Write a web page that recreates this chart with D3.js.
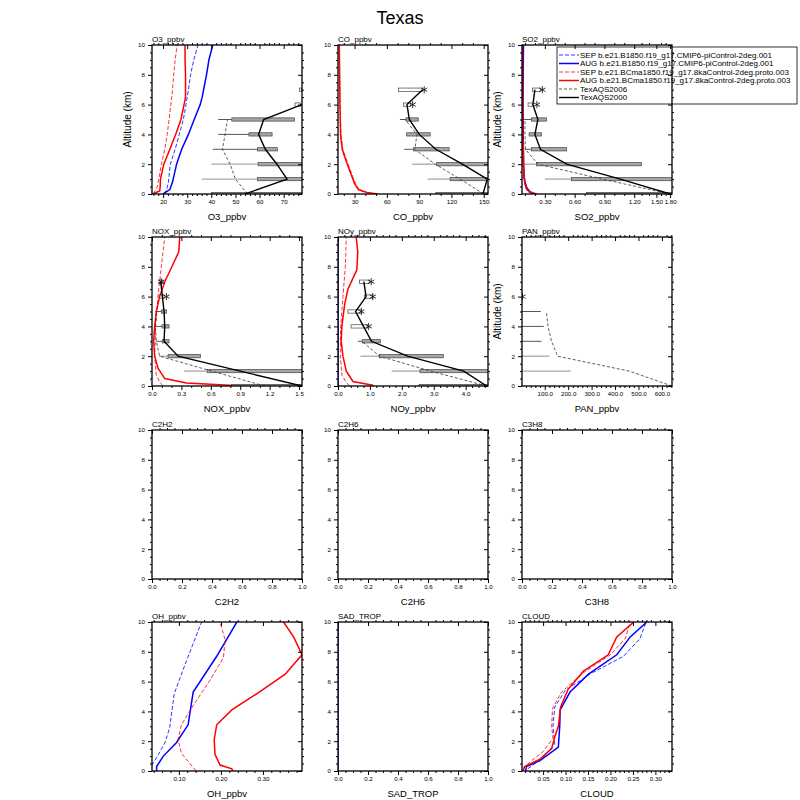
<!DOCTYPE html>
<html lang="en">
<head>
<meta charset="UTF-8">
<title>Texas</title>
<script src="https://d3js.org/d3.v7.min.js"></script>
<style>
body { margin: 0; background: #fff; }
text { font-family: 'Liberation Sans', Arial, Helvetica, sans-serif; fill: #000; }
</style>
</head>
<body>
<svg id="canvas"></svg>
<script>
// ---------- data ----------
// model profiles: [value, altitude km]
let o3SepB = [[20.5,0],[21.5,0.3],[22.2,0.8],[23,2],[25,3],[26.7,4],[28.4,5],[29.5,6],[30.5,7],[31.4,8],[32.7,9],[34.5,10]]
let o3AugB = [[20,0],[22.8,0.3],[23.9,0.8],[25.6,2],[27.7,3],[30.5,4],[32.9,5],[35.4,6],[36.2,6.5],[38,8],[39,9],[40.6,10]]
let o3SepC = [[16,0],[17.6,0.5],[18.2,1],[19.3,2],[20.7,3],[21.7,4],[22.5,5],[23.2,6],[23.9,7],[24.4,8],[25,9],[25.8,10]]
let o3AugC = [[15.6,0],[18.6,0.2],[18.8,0.5],[18.9,1],[20.3,2],[22.8,3],[25.2,4],[27.4,5],[28.7,6],[29.3,6.5],[29.3,8],[29.1,9],[29.1,10]]

let coSepC = [[50,0],[40,0.1],[34,0.3],[31,0.7],[29.2,1],[24,2],[19,3],[17.3,4],[16.6,6],[16.2,8],[15.9,10]]
let coAugC = [[51.6,0],[41.6,0.1],[33.5,0.3],[30,0.7],[28.4,1],[23.2,2],[18.5,3],[17,4],[16.4,6],[16.1,8],[15.8,10]]

let so2SepB = [[0.17,0],[0.13,0.15],[0.11,0.4],[0.095,0.8],[0.085,1.5],[0.08,2.5],[0.078,5],[0.078,8],[0.08,10]]
let so2AugB = [[0.2,0],[0.15,0.15],[0.12,0.4],[0.1,0.8],[0.09,1.3],[0.085,2],[0.082,4],[0.08,6],[0.082,8],[0.085,10]]
let so2SepC = [[0.19,0],[0.14,0.12],[0.11,0.35],[0.095,0.8],[0.085,1.5],[0.078,2.5],[0.075,5],[0.075,10]]
let so2AugC = [[0.22,0],[0.16,0.1],[0.12,0.3],[0.1,0.7],[0.09,1.2],[0.087,2.2],[0.078,4],[0.076,10]]

let noxSepC = [[0.11,0],[0.078,0.3],[0.044,0.7],[0.027,2],[0.037,4],[0.061,6],[0.095,8],[0.13,10]]
let noxAugC = [[0.82,0],[0.79,0.05],[0.35,0.2],[0.13,0.5],[0.061,1.2],[0.027,2],[0.017,3],[0.027,4],[0.044,5],[0.078,6],[0.13,7],[0.181,7.7],[0.273,9],[0.283,10]]

let noyAugB = [[0,0],[0,10]]
let noySepC = [[0.36,0],[0.26,0.25],[0.124,0.7],[0.073,2],[0.083,4],[0.155,6],[0.23,8],[0.26,10]]
let noyAugC = [[1.12,0],[1.09,0.05],[0.47,0.3],[0.26,1],[0.155,2],[0.10,3],[0.12,4],[0.21,5.5],[0.31,6.5],[0.59,7.8],[0.62,9],[0.57,10]]

let ohSepB = [[0.03,0],[0.036,0.4],[0.047,0.9],[0.067,1.9],[0.078,2.9],[0.089,5.2],[0.118,7.4],[0.154,10]]
let ohAugB = [[0.047,0],[0.047,0.3],[0.063,1],[0.094,1.9],[0.122,3.1],[0.134,5.3],[0.19,7.7],[0.238,10]]
let ohSepC = [[0.141,0],[0.126,0.5],[0.106,1.2],[0.098,2.1],[0.106,3.1],[0.134,4.4],[0.174,6.1],[0.206,7.6],[0.21,8.8],[0.198,10]]
let ohAugC = [[0.228,0],[0.226,0.15],[0.198,0.4],[0.186,1.1],[0.184,2.1],[0.19,3.1],[0.226,4.1],[0.286,5.2],[0.353,6.5],[0.393,7.8],[0.373,9],[0.349,10]]

let sadAugB = [[0,0],[0,10]]

let cloudSepB = [[0.016,0.15],[0.05,0.9],[0.076,1.8],[0.072,3],[0.076,4.3],[0.099,5.4],[0.154,6.5],[0.229,7.7],[0.266,8.9],[0.278,9.9]]
let cloudAugB = [[0.011,0],[0.013,0.3],[0.043,0.7],[0.084,1.6],[0.087,3],[0.088,4.1],[0.11,5.3],[0.151,6.5],[0.214,7.8],[0.244,9],[0.281,10]]
let cloudSepC = [[0.005,0.15],[0.02,0.6],[0.05,1.3],[0.072,2.2],[0.069,3],[0.071,4.2],[0.091,5.3],[0.14,6.6],[0.2,7.8],[0.233,8.9],[0.244,10]]
let cloudAugC = [[0.005,0],[0.009,0.3],[0.043,0.8],[0.069,1.5],[0.076,2.3],[0.084,3],[0.089,4.3],[0.106,5.5],[0.14,6.7],[0.195,7.8],[0.214,9],[0.252,10]]

// observations at 0..7 km
let obsAlt = [0, 1, 2, 3, 4, 5, 6, 7]
let o3Obs2000 = [54, 71.4, 67.2, 62.4, 59.6, 61.7, 77.6, null]
let o3Obs2006 = [55, 50, 47.8, 44.6, 45.7, 46.7]
let coObs2000 = [149.3, 153.3, 130.2, 105.5, 90.1, 80.9, 78.7, 93.2]
let coObs2006 = [150, 128, 105, 86, 88, 77]
let so2Obs2000 = [1.8, 1.06, 0.52, 0.256, 0.20, 0.23, 0.18, 0.20]
let so2Obs2006 = [1.8, 0.88, 0.23, 0.105, 0.1, 0.1]
let noxObs2000 = [1.53, 0.9, 0.266, 0.123, 0.13, 0.123, 0.106, 0.089]
let noxObs2006 = [1.15, 0.61, 0.078, 0.044, 0.034, 0.044]
let noyObs2000 = [4.66, 3.94, 2.18, 1.05, 0.8, 0.55, 0.88, 0.81]
let noyObs2006 = [4.66, 2.9, 1.3, 0.75]
let panObs2006 = [643, 460, 155, 129, 114, 107]

// quartile boxes [alt, low, high, filled]
let o3Box = [[0,40,80,1],[1,59.2,80,1],[2,59.4,80,1],[3,59.2,67.5,1],[4,55.6,65.2,1],[5,48.5,74.5,1],[6,74.7,77,0],[7,76.5,77.5,0]]
let coBox = [[0,105.5,160,1],[1,118.8,160,1],[2,106.4,160,1],[3,84.9,117.9,1],[4,78.4,100.3,1],[5,77.8,89.2,1],[6,75.6,81.8,0],[7,70.7,93.2,0]]
let so2Box = [[0,0.72,2,1],[1,0.57,2,1],[2,0.216,1.296,1],[3,0.165,0.52,1],[4,0.141,0.267,1],[5,0.165,0.317,1],[6,0.131,0.176,0],[7,0.176,0.256,0]]
let noxBox = [[0,0.81,2,1],[1,0.563,2,1],[2,0.164,0.494,1],[3,0.106,0.174,1],[4,0.102,0.174,1],[5,0.095,0.147,1],[6,0.072,0.123,0],[7,0.072,0.112,0]]
let noyBox = [[0,2.54,6,1],[1,2.57,6,1],[2,1.3,3.3,1],[3,0.76,1.33,1],[4,0.41,0.93,0],[5,0.31,0.73,0],[6,0.83,1.09,0],[7,0.67,0.98,0]]

// range whiskers [alt, low, high]
let o3Whisk = [[1,36,59.2],[2,40,59.4],[3,40.6,59.2],[4,42.9,55.6],[5,42.9,48.5]]
let coWhisk = [[1,97.8,118.8],[2,83.3,106.4],[3,76.2,84.9],[5,72.2,77.8]]
let so2Whisk = [[1,0.3,0.57],[2,0.098,0.216],[3,0.098,0.165],[5,0.07,0.165]]
let noxWhisk = [[1,0.324,0.563],[2,0.072,0.164],[3,0.044,0.106],[4,0.034,0.102],[5,0.034,0.095]]
let noyWhisk = [[1,1.68,2.57],[2,0.70,1.30],[3,0.62,0.76]]
let panWhisk = [[1,0,211],[2,0,121],[3,0,86],[4,0,96],[5,0,83]]

// asterisk markers [alt, value]
let coStar = [[7,94.7],[6,84]]
let so2Star = [[7,0.275],[6,0.22]]
let noxStar = [[7,0.095],[6,0.147]]
let noyStar = [[7,1.04],[6,1.09],[5,0.73],[4,0.96]]
let panStar = [[6,5]]

// axis ticks
let yTicks = [0, 2, 4, 6, 8, 10]
let o3Ticks = [20, 30, 40, 50, 60, 70]
let coTicks = [30, 60, 90, 120, 150]
let so2Ticks = [0.3, 0.6, 0.9, 1.2, 1.5, 1.8]
let noxTicks = [0, 0.3, 0.6, 0.9, 1.2, 1.5]
let noyTicks = [0, 1, 2, 3, 4]
let panTicks = [100, 200, 300, 400, 500, 600]
let unitTicks = [0, 0.2, 0.4, 0.6, 0.8, 1.0]
let ohTicks = [0.1, 0.2, 0.3]
let cloudTicks = [0.05, 0.1, 0.15, 0.2, 0.25, 0.3]

let legendLabels = [
    'SEP b.e21.B1850.f19_g17.CMIP6-piControl-2deg.001',
    'AUG b.e21.B1850.f19_g17.CMIP6-piControl-2deg.001',
    'SEP b.e21.BCma1850.f19_g17.8kaControl-2deg.proto.003',
    'AUG b.e21.BCma1850.f19_g17.8kaControl-2deg.proto.003',
    'TexAQS2006',
    'TexAQS2000'
]

// ---------- layout ----------
let width = 800
let height = 800
let colX = [152, 338, 522]
let rowY = [45, 237, 430, 622]
let W = 150
let H = 149

let styles = {
    sepB: {color: '#0000ff', w: 0.8, dash: '4,2'},
    augB: {color: '#0000ff', w: 1.5, dash: null},
    sepC: {color: '#ff0000', w: 0.8, dash: '4,2'},
    augC: {color: '#ff0000', w: 1.5, dash: null},
    o2006: {color: '#333333', w: 0.8, dash: '3,2'},
    o2000: {color: '#000000', w: 1.4, dash: null}
}

let panels = [
    {title: 'O3_ppbv', col: 0, row: 0, xDom: [15.4, 77.6], ticks: o3Ticks, minor: d3.range(16, 78, 2), fmt: d3.format('d'), yLabel: true,
     sepB: o3SepB, augB: o3AugB, sepC: o3SepC, augC: o3AugC, o2000: o3Obs2000, o2006: o3Obs2006, box: o3Box, whisk: o3Whisk, star: []},
    {title: 'CO_ppbv', col: 1, row: 0, xDom: [14.6, 154], ticks: coTicks, minor: d3.range(20, 155, 10), fmt: d3.format('d'),
     sepB: [], augB: [], sepC: coSepC, augC: coAugC, o2000: coObs2000, o2006: coObs2006, box: coBox, whisk: coWhisk, star: coStar},
    {title: 'SO2_ppbv', col: 2, row: 0, xDom: [0.07, 1.2, 1.5, 1.84], xFrac: [0, 0.748, 0.896, 1], ticks: so2Ticks, minor: d3.range(0.1, 1.85, 0.1), fmt: d3.format('.2f'), yLabel: true,
     sepB: so2SepB, augB: so2AugB, sepC: so2SepC, augC: so2AugC, o2000: so2Obs2000, o2006: so2Obs2006, box: so2Box, whisk: so2Whisk, star: so2Star},
    {title: 'NOX_ppbv', col: 0, row: 1, xDom: [0, 1.53], ticks: noxTicks, minor: d3.range(0, 1.55, 0.1), fmt: d3.format('.1f'),
     sepB: [], augB: [], sepC: noxSepC, augC: noxAugC, o2000: noxObs2000, o2006: noxObs2006, box: noxBox, whisk: noxWhisk, star: noxStar},
    {title: 'NOy_ppbv', col: 1, row: 1, xDom: [0, 4.7], ticks: noyTicks, minor: d3.range(0, 4.7, 0.2), fmt: d3.format('.1f'),
     sepB: [], augB: noyAugB, sepC: noySepC, augC: noyAugC, o2000: noyObs2000, o2006: noyObs2006, box: noyBox, whisk: noyWhisk, star: noyStar},
    {title: 'PAN_ppbv', col: 2, row: 1, xDom: [3, 643], ticks: panTicks, minor: d3.range(20, 645, 20), fmt: d3.format('.1f'), yLabel: true,
     sepB: [], augB: [], sepC: [], augC: [], o2000: [], o2006: panObs2006, box: [], whisk: panWhisk, star: panStar},
    {title: 'C2H2', col: 0, row: 2, xDom: [0, 1], ticks: unitTicks, minor: d3.range(0, 1.001, 0.05), fmt: d3.format('.1f')},
    {title: 'C2H6', col: 1, row: 2, xDom: [0, 1], ticks: unitTicks, minor: d3.range(0, 1.001, 0.05), fmt: d3.format('.1f')},
    {title: 'C3H8', col: 2, row: 2, xDom: [0, 1], ticks: unitTicks, minor: d3.range(0, 1.001, 0.05), fmt: d3.format('.1f')},
    {title: 'OH_ppbv', col: 0, row: 3, xDom: [0.036, 0.393], ticks: ohTicks, minor: d3.range(0.04, 0.4, 0.02), fmt: d3.format('.2f'),
     sepB: ohSepB, augB: ohAugB, sepC: ohSepC, augC: ohAugC},
    {title: 'SAD_TROP', col: 1, row: 3, xDom: [0, 1], ticks: unitTicks, minor: d3.range(0, 1.001, 0.05), fmt: d3.format('.1f'),
     augB: sadAugB},
    {title: 'CLOUD', col: 2, row: 3, xDom: [0.003, 0.337], ticks: cloudTicks, minor: d3.range(0.01, 0.34, 0.01), fmt: d3.format('.2f'),
     sepB: cloudSepB, augB: cloudAugB, sepC: cloudSepC, augC: cloudAugC}
]

let svg = d3.select('#canvas').attr('width', width).attr('height', height)

svg.append('text')
    .attr('x', 400).attr('y', 24)
    .attr('text-anchor', 'middle')
    .style('font-size', '18px')
    .text('Texas')

let offMajor = (vals, majors) => vals.filter(v => !majors.some(m => Math.abs(m - v) < 1e-6))

let drawPanel = (p, i) => {
    let g = svg.append('g').attr('transform', 'translate(' + colX[p.col] + ',' + rowY[p.row] + ')')
    let range = p.xFrac ? p.xFrac.map(f => f * W) : [0, W]
    let x = d3.scaleLinear().domain(p.xDom).range(range)
    let y = d3.scaleLinear().domain([0, 10]).range([H, 0])
    let lo = p.xDom[0], hi = p.xDom[p.xDom.length - 1]

    g.append('clipPath').attr('id', 'clip' + i)
        .append('rect').attr('width', W).attr('height', H)
    let plot = g.append('g').attr('clip-path', 'url(#clip' + i + ')')

    // whiskers
    plot.selectAll('.whisk').data(p.whisk || []).join('line')
        .attr('x1', d => x(Math.max(d[1], lo)))
        .attr('x2', d => x(d[2]))
        .attr('y1', d => y(d[0])).attr('y2', d => y(d[0]))
        .attr('stroke', d => d[0] <= 2 ? '#a8a8a8' : '#555')
        .attr('stroke-width', d => d[0] <= 2 ? 1.3 : 1)

    // boxes
    plot.selectAll('.box').data(p.box || []).join('rect')
        .attr('x', d => x(d[1]))
        .attr('width', d => x(Math.min(d[2], hi * 1.2)) - x(d[1]))
        .attr('y', d => y(d[0] + 0.11))
        .attr('height', d => y(d[0] - 0.11) - y(d[0] + 0.11))
        .attr('fill', d => d[3] ? '#a6a6a6' : '#fff')
        .attr('stroke', '#444')
        .attr('stroke-width', 0.7)

    let line = d3.line().defined(d => d[0] != null).x(d => x(d[0])).y(d => y(d[1]))

    ;['sepB', 'augB', 'sepC', 'augC'].forEach(k => {
        if (!p[k] || !p[k].length) return
        let s = styles[k]
        plot.append('path').datum(p[k])
            .attr('d', line)
            .attr('fill', 'none')
            .attr('stroke', s.color)
            .attr('stroke-width', s.w)
            .attr('stroke-dasharray', s.dash)
    })

    ;['o2006', 'o2000'].forEach(k => {
        if (!p[k] || !p[k].length) return
        let s = styles[k]
        let pts = p[k].map((v, j) => [v, obsAlt[j]])
        plot.append('path').datum(pts)
            .attr('d', line)
            .attr('fill', 'none')
            .attr('stroke', s.color)
            .attr('stroke-width', s.w)
            .attr('stroke-dasharray', s.dash)
    })

    plot.selectAll('.star').data(p.star || []).join('path')
        .attr('transform', d => 'translate(' + x(d[1]) + ',' + y(d[0]) + ')')
        .attr('d', d3.symbol(d3.symbolAsterisk, 36))
        .attr('fill', 'none')
        .attr('stroke', '#000')
        .attr('stroke-width', 0.8)

    // axes
    let minorX = offMajor(p.minor.filter(v => v >= lo - 1e-9 && v <= hi + 1e-9), p.ticks)
    let minorY = offMajor(d3.range(0, 10.01, 0.5), yTicks)

    let addAxis = (axis, tr) => {
        let a = g.append('g').attr('transform', tr).call(axis)
        a.select('.domain').remove()
        a.selectAll('line').attr('stroke', '#000').attr('stroke-width', 1)
        a.selectAll('text').style('font-size', '6.2px')
        return a
    }

    addAxis(d3.axisBottom(x).tickValues(p.ticks).tickSize(4).tickPadding(2).tickFormat(p.fmt), 'translate(0,' + H + ')')
    addAxis(d3.axisBottom(x).tickValues(minorX).tickSize(2).tickFormat(''), 'translate(0,' + H + ')')
    addAxis(d3.axisTop(x).tickValues(p.ticks).tickSize(-4).tickFormat(''), 'translate(0,0)')
    addAxis(d3.axisTop(x).tickValues(minorX).tickSize(2).tickFormat(''), 'translate(0,0)')
    addAxis(d3.axisLeft(y).tickValues(yTicks).tickSize(4).tickPadding(3).tickFormat(d3.format('d')), 'translate(0,0)')
    addAxis(d3.axisLeft(y).tickValues(minorY).tickSize(2).tickFormat(''), 'translate(0,0)')
    addAxis(d3.axisRight(y).tickValues(yTicks).tickSize(-4).tickFormat(''), 'translate(' + W + ',0)')
    addAxis(d3.axisRight(y).tickValues(minorY).tickSize(2).tickFormat(''), 'translate(' + W + ',0)')

    g.append('rect')
        .attr('width', W).attr('height', H)
        .attr('fill', 'none')
        .attr('stroke', '#000')
        .attr('stroke-width', 1.3)

    g.append('text')
        .attr('x', 0).attr('y', -3)
        .style('font-size', '8px')
        .text(p.title)

    g.append('text')
        .attr('x', W / 2).attr('y', H + 26)
        .attr('text-anchor', 'middle')
        .style('font-size', '9.5px')
        .text(p.title)

    if (p.yLabel) {
        g.append('text')
            .attr('transform', 'translate(-21,' + (H / 2) + ') rotate(-90)')
            .attr('text-anchor', 'middle')
            .style('font-size', '10px')
            .text('Altitude (km)')
    }
}

panels.forEach(drawPanel)

// legend
let legend = svg.append('g').attr('transform', 'translate(557,47)')
legend.append('rect')
    .attr('width', 240).attr('height', 57)
    .attr('fill', 'none')
    .attr('stroke', '#000')
    .attr('stroke-width', 0.8)

let legendKeys = ['sepB', 'augB', 'sepC', 'augC', 'o2006', 'o2000']
let legendY = d3.scaleLinear().domain([0, 5]).range([8, 50.5])

legend.selectAll('.lgline').data(legendKeys).join('line')
    .attr('x1', 2).attr('x2', 22)
    .attr('y1', (d, j) => legendY(j)).attr('y2', (d, j) => legendY(j))
    .attr('stroke', d => styles[d].color)
    .attr('stroke-width', d => styles[d].w)
    .attr('stroke-dasharray', d => styles[d].dash)

legend.selectAll('.lgtext').data(legendLabels).join('text')
    .attr('x', 23)
    .attr('y', (d, j) => legendY(j) + 2.8)
    .style('font-size', '8px')
    .text(d => d)
</script>
</body>
</html>
